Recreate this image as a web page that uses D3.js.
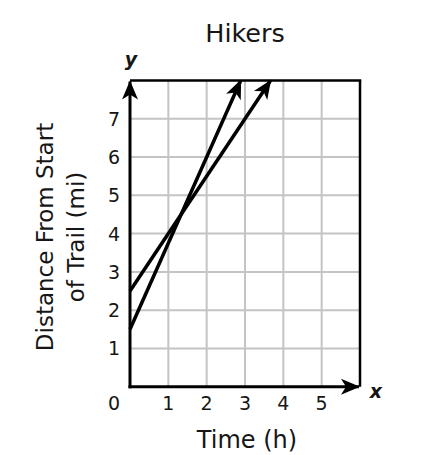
<!DOCTYPE html>
<html>
<head>
<meta charset="utf-8">
<script src="https://cdn.jsdelivr.net/npm/d3@7"></script>
<style>
  html, body { margin: 0; padding: 0; background: #fff; }
  svg { display: block; }
  text { font-family: "DejaVu Sans", Verdana, sans-serif; fill: #161616; }
</style>
</head>
<body>
<svg id="chart" width="432" height="455"></svg>
<script>
const title = "Hikers";
const xLabel = "Time (h)";
const yLabelLines = ["Distance From Start", "of Trail (mi)"];
const xTicks = [1, 2, 3, 4, 5];
const yTicks = [1, 2, 3, 4, 5, 6, 7];
const xDomain = [0, 6];
const yDomain = [0, 8];
const hikerA = [[0, 1.5], [2.889, 8]];
const hikerB = [[0, 2.5], [3.667, 8]];

const svg = d3.select("#chart");
const x = d3.scaleLinear().domain(xDomain).range([130, 360]);
const y = d3.scaleLinear().domain(yDomain).range([386.7, 80.5]);

const defs = svg.append("defs");
defs.append("marker")
  .attr("id", "arrow")
  .attr("markerUnits", "userSpaceOnUse")
  .attr("viewBox", "-22 -11 24 22")
  .attr("refX", 0).attr("refY", 0)
  .attr("markerWidth", 24).attr("markerHeight", 22)
  .attr("orient", "auto")
  .append("path")
  .attr("d", "M1,0 L-18,-8 L-13,0 L-18,8 Z")
  .attr("fill", "#000");

// grid
const g = svg.append("g");
g.selectAll(".vg").data(xTicks).enter().append("line")
  .attr("x1", d => x(d)).attr("x2", d => x(d))
  .attr("y1", y(yDomain[0])).attr("y2", y(yDomain[1]))
  .attr("stroke", "#c4c4c4").attr("stroke-width", 2);
g.selectAll(".hg").data(yTicks).enter().append("line")
  .attr("x1", x(xDomain[0])).attr("x2", x(xDomain[1]))
  .attr("y1", d => y(d)).attr("y2", d => y(d))
  .attr("stroke", "#c4c4c4").attr("stroke-width", 2);

// top and right borders
g.append("line")
  .attr("x1", x(0)).attr("x2", x(6) + 1.25)
  .attr("y1", y(8)).attr("y2", y(8))
  .attr("stroke", "#000").attr("stroke-width", 2.5);
g.append("line")
  .attr("x1", x(6)).attr("x2", x(6))
  .attr("y1", y(8)).attr("y2", y(0))
  .attr("stroke", "#000").attr("stroke-width", 2.5);

// axes with arrows
g.append("line")
  .attr("x1", x(0)).attr("x2", x(0))
  .attr("y1", y(0) + 1.5).attr("y2", y(8) + 1)
  .attr("stroke", "#000").attr("stroke-width", 3)
  .attr("marker-end", "url(#arrow)");
g.append("line")
  .attr("x1", x(0) - 1.5).attr("x2", x(6) - 1)
  .attr("y1", y(0)).attr("y2", y(0))
  .attr("stroke", "#000").attr("stroke-width", 3)
  .attr("marker-end", "url(#arrow)");

// hiker lines
const line = d3.line().x(d => x(d[0])).y(d => y(d[1]));
[hikerA, hikerB].forEach(data => {
  g.append("path")
    .attr("d", line(data))
    .attr("fill", "none")
    .attr("stroke", "#000").attr("stroke-width", 3.5)
    .attr("marker-end", "url(#arrow)");
});

// tick labels
svg.selectAll(".xt").data(xTicks).enter().append("text")
  .attr("x", d => x(d)).attr("y", 410)
  .attr("text-anchor", "middle").attr("font-size", 19)
  .text(d => d);
svg.selectAll(".yt").data(yTicks).enter().append("text")
  .attr("x", 114).attr("y", d => y(d) + 7)
  .attr("text-anchor", "middle").attr("font-size", 19)
  .text(d => d);
svg.append("text")
  .attr("x", 114).attr("y", 410)
  .attr("text-anchor", "middle").attr("font-size", 19)
  .text("0");

// axis letters
svg.append("text")
  .attr("x", 131).attr("y", 66)
  .attr("text-anchor", "middle").attr("font-size", 19)
  .attr("font-weight", "bold").attr("font-style", "italic")
  .text("y");
svg.append("text")
  .attr("x", 376).attr("y", 398)
  .attr("text-anchor", "middle").attr("font-size", 19)
  .attr("font-weight", "bold").attr("font-style", "italic")
  .text("x");

// title
svg.append("text")
  .attr("x", 245).attr("y", 41.5)
  .attr("text-anchor", "middle").attr("font-size", 25.5)
  .text(title);

// x axis label
svg.append("text")
  .attr("x", 247).attr("y", 448)
  .attr("text-anchor", "middle").attr("font-size", 24)
  .text(xLabel);

// y axis label
const yl = svg.append("text")
  .attr("transform", "translate(53,237) rotate(-90)")
  .attr("text-anchor", "middle").attr("font-size", 23);
yLabelLines.forEach((t, i) => {
  yl.append("tspan").attr("x", 0).attr("dy", i === 0 ? 0 : 31).text(t);
});
</script>
</body>
</html>
